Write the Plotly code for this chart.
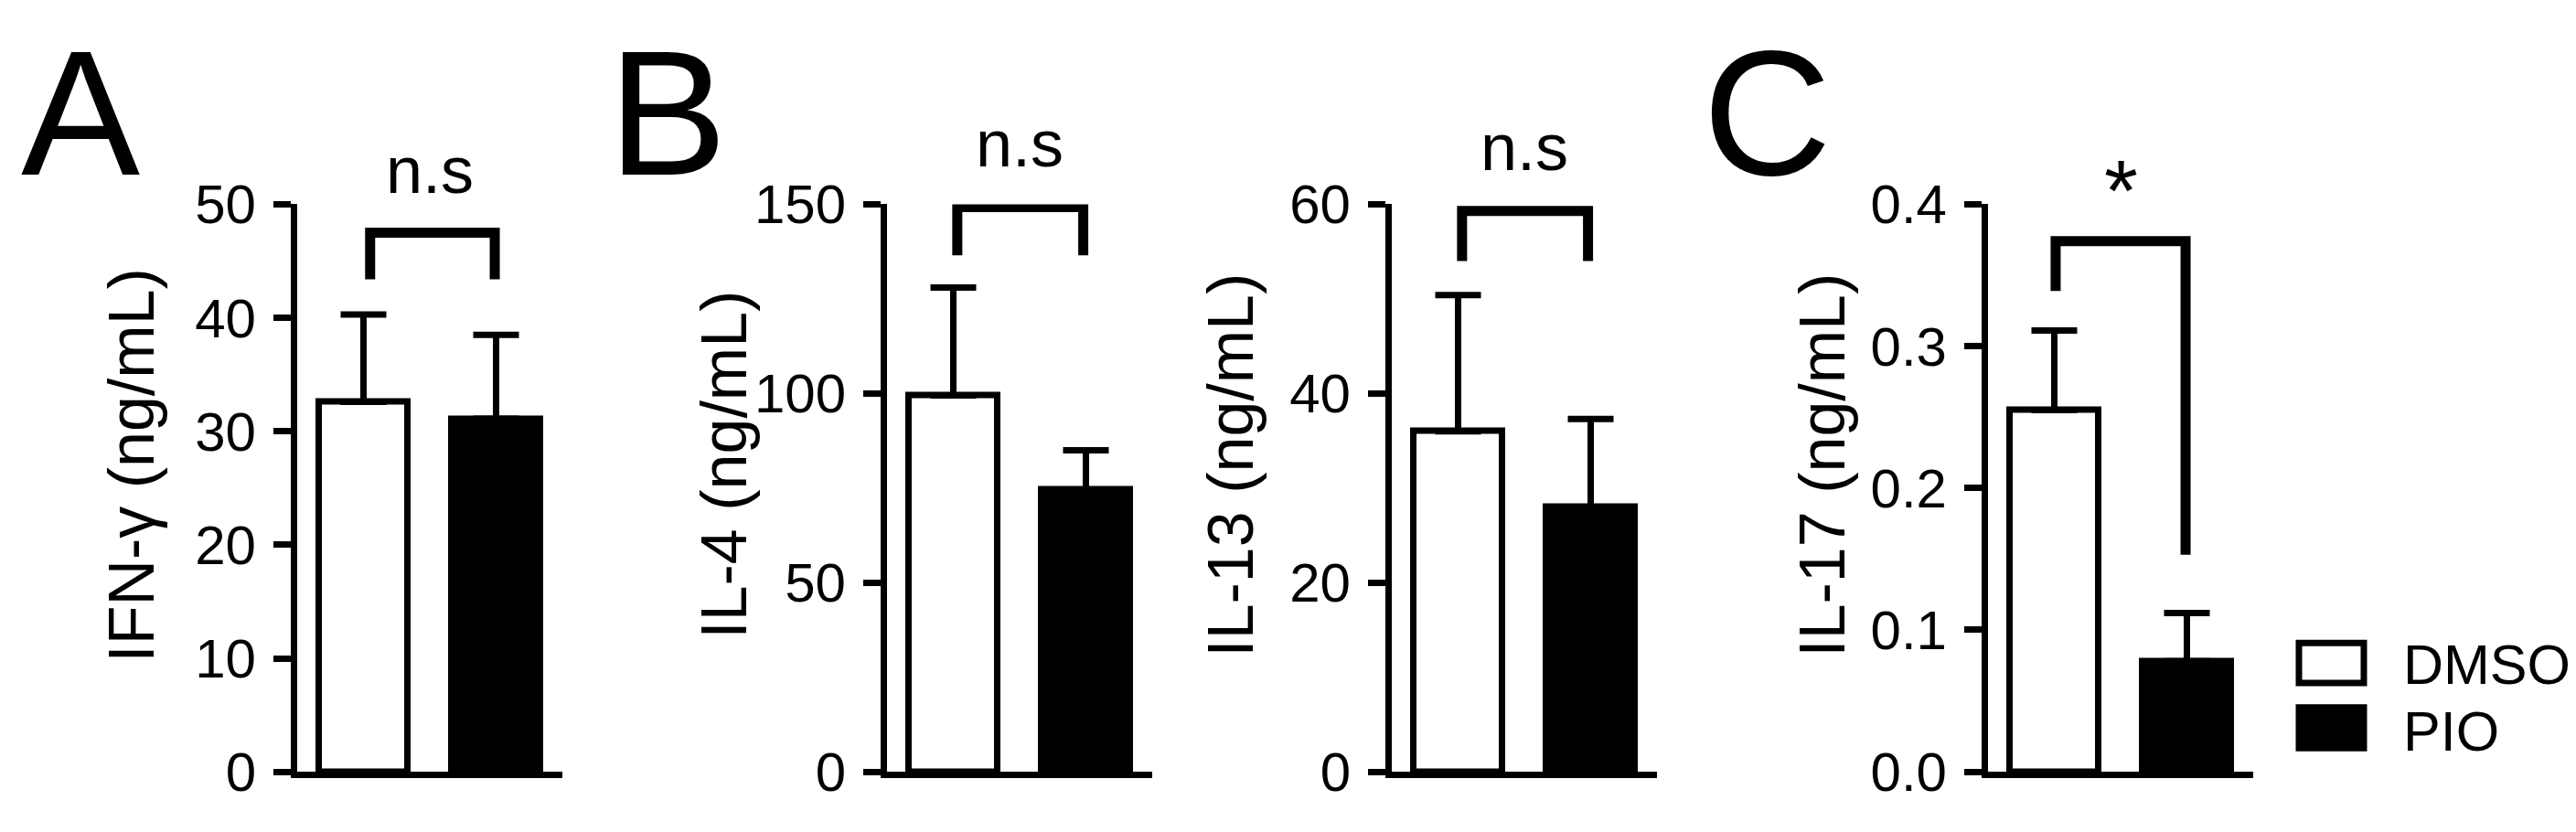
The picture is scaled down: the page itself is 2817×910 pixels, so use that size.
import plotly.graph_objects as go

# cytokine panels (GraphPad-style bar charts, mean + SD)
titles = ["IFN-γ (ng/mL)", "IL-4 (ng/mL)", "IL-13 (ng/mL)", "IL-17 (ng/mL)"]
groups = ["DMSO", "PIO"]
dmso_mean = [32.6, 99.5, 36.0, 0.255]
dmso_err = [7.7, 28.5, 14.4, 0.056]
pio_mean = [31.1, 74.6, 28.0, 0.078]
pio_err = [7.4, 10.4, 9.3, 0.034]
y_max = [50, 150, 60, 0.4]
y_dtick = [10, 50, 20, 0.1]
y_format = ["d", "d", "d", ".1f"]

# significance brackets: leg positions, left leg bottom, top bar, right leg bottom
bracket_x0 = [0.05, 0.03, 0.03, 0.01]
bracket_x1 = [0.99, 0.98, 0.98, 0.99]
bracket_left = [43.4, 136.5, 54, 0.339]
bracket_top = [47.5, 149.3, 59.3, 0.374]
bracket_right = [43.4, 136.5, 54, 0.153]
sig_labels = ["n.s", "n.s", "n.s", "*"]
sig_y = [53.0, 166, 66, 0.41]

panel_letters = ["A", "B", "C"]

W, H = 2817, 910
FONT = "Arial, Liberation Sans, sans-serif"
x_domains = [(317, 607), (962, 1252), (1514, 1804), (2166, 2456)]
title_offset = [-181, -178, -176, -181]
y_domain = [(H - 867) / H, (H - 197) / H]
LW = 7

fig = go.Figure()
annotations = []
shapes = []

for i in range(4):
    xa = "x" if i == 0 else f"x{i+1}"
    ya = "y" if i == 0 else f"y{i+1}"
    fig.add_trace(go.Bar(
        x=[0], y=[dmso_mean[i]], xaxis=xa, yaxis=ya, width=0.67,
        marker=dict(color="white", line=dict(color="black", width=LW)),
        error_y=dict(type="data", array=[dmso_err[i]], arrayminus=[0], symmetric=False,
                     color="black", thickness=LW, width=25),
        showlegend=False))
    fig.add_trace(go.Bar(
        x=[1], y=[pio_mean[i]], xaxis=xa, yaxis=ya, width=0.67,
        marker=dict(color="black", line=dict(color="black", width=LW)),
        error_y=dict(type="data", array=[pio_err[i]], arrayminus=[0], symmetric=False,
                     color="black", thickness=LW, width=25),
        showlegend=False))
    # bracket
    fig.add_trace(go.Scatter(
        x=[bracket_x0[i], bracket_x0[i], bracket_x1[i], bracket_x1[i]],
        y=[bracket_left[i], bracket_top[i], bracket_top[i], bracket_right[i]],
        xaxis=xa, yaxis=ya, mode="lines", line=dict(color="black", width=11),
        hoverinfo="skip", showlegend=False))

    key = "" if i == 0 else str(i + 1)
    d0, d1 = x_domains[i]
    fig.layout["xaxis" + key] = dict(
        domain=[d0 / W, d1 / W], range=[-0.5, 1.5], showticklabels=False, ticks="",
        showgrid=False, zeroline=False, showline=True, linecolor="black", linewidth=LW,
        anchor=ya, fixedrange=True)
    fig.layout["yaxis" + key] = dict(
        domain=y_domain, range=[0, y_max[i]], dtick=y_dtick[i], tickformat=y_format[i],
        anchor=xa, showgrid=False, zeroline=False, showline=True, linecolor="black",
        linewidth=LW, ticks="outside", ticklen=19, tickwidth=LW, tickcolor="black",
        ticklabelstandoff=7, tickfont=dict(family=FONT, size=60, color="black"))

    annotations.append(dict(
        text=titles[i], xref="paper", yref="paper", x=d0 / W, xshift=title_offset[i],
        y=1 - 505 / H, textangle=-90, showarrow=False, xanchor="center", yanchor="middle",
        font=dict(family=FONT, size=70, color="black")))
    star = sig_labels[i] == "*"
    annotations.append(dict(
        text=sig_labels[i], xref=xa, yref=ya + " domain", x=0.5, y=sig_y[i] / y_max[i],
        showarrow=False, xanchor="center", yanchor="middle",
        font=dict(family=FONT, size=95 if star else 72, color="black")))

for letter, xpos in zip(panel_letters, [13, 655, 1852]):
    annotations.append(dict(
        text=letter, xref="paper", yref="paper", x=xpos / W, y=1 - 89 / H,
        showarrow=False, xanchor="left", yanchor="middle",
        font=dict(family=FONT, size=195, color="black")))

# legend swatches
legend_fill = ["white", "black"]
legend_rows = [(715, 762), (791, 839)]
legend_text_y = [741, 819]
for name, fill, (top, bot), ty in zip(groups, legend_fill, legend_rows, legend_text_y):
    shapes.append(dict(type="rect", xref="paper", yref="paper",
                       x0=2506 / W, x1=2577 / W, y0=1 - bot / H, y1=1 - top / H,
                       fillcolor=fill, line=dict(color="black", width=LW)))
    annotations.append(dict(
        text=name, xref="paper", yref="paper", x=2618 / W, y=1 - ty / H,
        showarrow=False, xanchor="left", yanchor="middle",
        font=dict(family=FONT, size=61, color="black")))

fig.update_layout(
    width=W, height=H, margin=dict(l=0, r=0, t=0, b=0),
    paper_bgcolor="white", plot_bgcolor="white",
    annotations=annotations, shapes=shapes, bargap=0, showlegend=False,
)

fig.write_html("out.html")
